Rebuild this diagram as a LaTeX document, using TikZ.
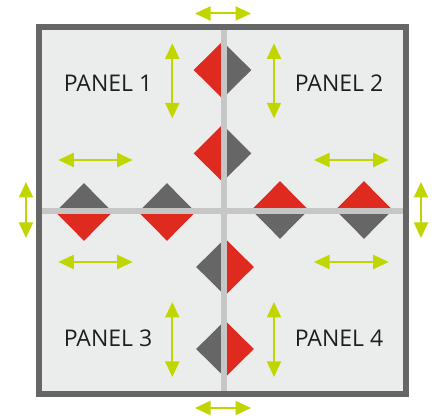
\documentclass[tikz,border=0pt]{standalone}
\usepackage{fontspec}
\setmainfont{Open Sans}
\usetikzlibrary{arrows.meta}
\definecolor{panelfill}{HTML}{EBEDEC}
\definecolor{frame}{HTML}{666666}
\definecolor{crossline}{HTML}{C6C6C6}
\definecolor{dred}{HTML}{DF2B1F}
\definecolor{dgray}{HTML}{666666}
\definecolor{lime}{HTML}{C1D600}
\definecolor{txt}{HTML}{1E1E1E}
\tikzset{
  move/.style={draw=lime, line width=2pt, {Triangle[length=15.5pt,width=14pt]}-{Triangle[length=15.5pt,width=14pt]}},
  label/.style={font=\fontsize{23}{26}\selectfont, text=txt, inner sep=0pt},
}
% vertical-arm diamond: #1 cx, #2 cy, #3 left colour, #4 right colour
\newcommand{\vdiam}[4]{%
  \fill[#3] (#1-28.8,#2) -- (#1,#2-28.6) -- (#1,#2+28.6) -- cycle;
  \fill[#4] (#1+28.8,#2) -- (#1,#2-28.6) -- (#1,#2+28.6) -- cycle;}
% horizontal-arm diamond: #1 cx, #2 cy, #3 top colour, #4 bottom colour
\newcommand{\hdiam}[4]{%
  \fill[#3] (#1,#2-28.8) -- (#1-28.6,#2) -- (#1+28.6,#2) -- cycle;
  \fill[#4] (#1,#2+28.8) -- (#1-28.6,#2) -- (#1+28.6,#2) -- cycle;}
\begin{document}
\begin{tikzpicture}[x=1pt,y=-1pt]
\useasboundingbox (0,0) rectangle (432,419);
\fill[white] (0,0) rectangle (432,419);
% panel
\fill[panelfill] (39,27) rectangle (406,394.5);
% diamonds
\vdiam{222.5}{70}{dred}{dgray}
\vdiam{222.5}{153.3}{dred}{dgray}
\vdiam{225}{267}{dgray}{dred}
\vdiam{225}{349}{dgray}{dred}
\hdiam{84}{212}{dgray}{dred}
\hdiam{167}{212}{dgray}{dred}
\hdiam{280}{210}{dred}{dgray}
\hdiam{364}{210}{dred}{dgray}
% cross
\draw[crossline, line width=5.7pt] (223.7,27) -- (223.7,394.5);
\draw[crossline, line width=5.7pt] (39,211.2) -- (406,211.2);
% frame
\draw[frame, line width=6pt] (39,27) rectangle (406,394.5);
% labels
\node[label] (p1) at (108,83.5) {PANEL 1};
\node[label] (p2) at (339,83.5) {PANEL 2};
\node[label] (p3) at (108,338.5) {PANEL 3};
\node[label] (p4) at (339,338.5) {PANEL 4};
% arrow end points
\coordinate (t1) at (195,13.5); \coordinate (t2) at (251,13.5);
\coordinate (b1) at (195,408); \coordinate (b2) at (251,408);
\coordinate (l1) at (26,182); \coordinate (l2) at (26,238);
\coordinate (r1) at (421,182); \coordinate (r2) at (421,238);
\coordinate (a1) at (172.3,43.3); \coordinate (a2) at (172.3,118.3);
\coordinate (c1) at (274,43.3); \coordinate (c2) at (274,118.3);
\coordinate (e1) at (172.3,302); \coordinate (e2) at (172.3,377);
\coordinate (f1) at (274,302); \coordinate (f2) at (274,377);
\coordinate (g1) at (58.3,160); \coordinate (g2) at (132.7,160);
\coordinate (h1) at (58.3,262); \coordinate (h2) at (132.7,262);
\coordinate (i1) at (314,160); \coordinate (i2) at (388.7,160);
\coordinate (j1) at (314,262); \coordinate (j2) at (388.7,262);
\foreach \u in {t,b,l,r,a,c,e,f,g,h,i,j}{\draw[move] (\u1) -- (\u2);}
\end{tikzpicture}
\end{document}
